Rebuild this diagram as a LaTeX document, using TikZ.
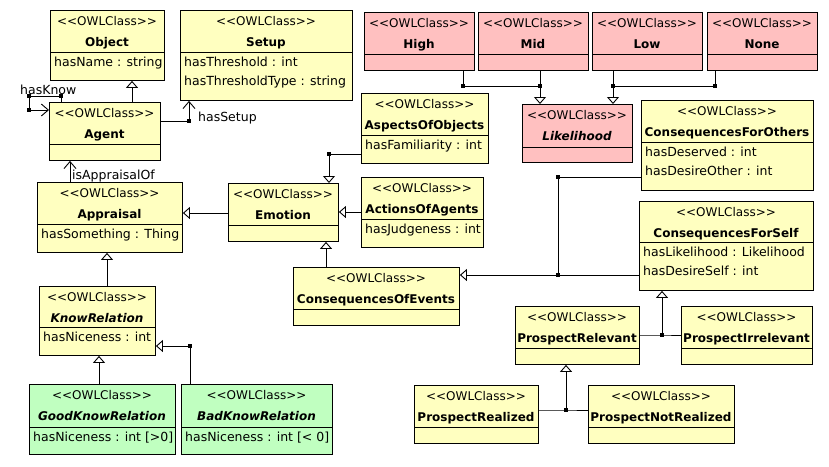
\documentclass[tikz,border=0pt]{standalone}
\usepackage{fontspec}
\setmainfont{DejaVu Sans}
\usetikzlibrary{arrows.meta}
\definecolor{clsyellow}{RGB}{255,255,192}
\definecolor{clspink}{RGB}{255,192,192}
\definecolor{clsgreen}{RGB}{192,255,192}
\newcommand{\owlst}{<{}<OWLClass>{}>}
\tikzset{
  clsbox/.style={draw=black, line width=0.9pt, inner sep=0pt, rectangle, anchor=north west},
  clsline/.style={line width=0.9pt},
  stereo/.style={font=\fontsize{12}{14}\selectfont, inner sep=0pt, anchor=base},
  clstitle/.style={font=\fontsize{12}{14}\selectfont\bfseries, inner sep=0pt, anchor=base},
  attr/.style={font=\fontsize{12.5}{14}\selectfont, inner sep=0pt, anchor=base west},
  gen/.style={line width=0.9pt, -{Triangle[open, length=7pt, width=12pt]}},
  nav/.style={line width=0.9pt, -{Straight Barb[length=7pt, width=12pt]}},
  conn/.style={line width=0.9pt},
  dot/.style={fill=black, rectangle, inner sep=0pt, minimum size=3.5pt},
  lbl/.style={font=\fontsize{12.5}{14}\selectfont, inner sep=0pt, anchor=base west},
}
% name, x1, y1, x2, y2, divider, fill, title
\newcommand{\umlbox}[8]{%
  \node[clsbox, fill=#7, minimum width={#4-#2}, minimum height={#5-#3}] (#1) at (#2,#3) {};
  \draw[clsline] (#2,#6) -- (#4,#6);
  \node[stereo] (#1-s) at ({(#2+#4)/2},{#3+15}) {\owlst};
  \node[clstitle] (#1-t) at ({(#2+#4)/2},{#3+36}) {#8};
}
\begin{document}
\begin{tikzpicture}[x=1pt,y=-1pt]
\useasboundingbox[fill=white] (0,0) rectangle (829,466);

% classes
\umlbox{object}{50}{10}{164}{80}{52}{clsyellow}{Object}
\node[attr] (object-a1) at (54,66) {hasName : string};

\umlbox{setup}{180}{10}{352}{100}{52}{clsyellow}{Setup}
\node[attr] (setup-a1) at (184,66) {hasThreshold : int};
\node[attr] (setup-a2) at (184,85) {hasThresholdType : string};

\umlbox{agent}{49}{102}{160}{160}{144}{clsyellow}{Agent}

\umlbox{appraisal}{37}{182}{182}{252}{224}{clsyellow}{Appraisal}
\node[attr] (appraisal-a1) at (41,238) {hasSomething : Thing};

\umlbox{knowrel}{39}{286}{155}{355}{327}{clsyellow}{\itshape KnowRelation}
\node[attr] (knowrel-a1) at (43,341) {hasNiceness : int};

\umlbox{good}{29}{384}{175}{454}{427}{clsgreen}{\itshape GoodKnowRelation}
\node[attr] (good-a1) at (33,441) {hasNiceness : int [>0]};

\umlbox{bad}{181}{384}{332}{454}{427}{clsgreen}{\itshape BadKnowRelation}
\node[attr] (bad-a1) at (185,441) {hasNiceness : int [< 0]};

\umlbox{emotion}{228}{183}{338}{241}{225}{clsyellow}{Emotion}

\umlbox{aspects}{361}{93}{488}{163}{135}{clsyellow}{AspectsOfObjects}
\node[attr] (aspects-a1) at (365,149) {hasFamiliarity : int};

\umlbox{actions}{361}{177}{483}{247}{219}{clsyellow}{ActionsOfAgents}
\node[attr] (actions-a1) at (365,233) {hasJudgeness : int};

\umlbox{coe}{293}{267}{459}{325}{309}{clsyellow}{ConsequencesOfEvents}

\umlbox{high}{364}{12}{474}{70}{54}{clspink}{High}
\umlbox{mid}{478}{12}{588}{70}{54}{clspink}{Mid}
\umlbox{low}{592}{12}{702}{70}{54}{clspink}{Low}
\umlbox{none}{707}{12}{817}{70}{54}{clspink}{None}

\umlbox{likelihood}{522}{104}{632}{162}{147}{clspink}{\itshape Likelihood}

\umlbox{cfo}{641}{100}{813}{190}{142}{clsyellow}{ConsequencesForOthers}
\node[attr] (cfo-a1) at (645,156) {hasDeserved : int};
\node[attr] (cfo-a2) at (645,175) {hasDesireOther : int};

\umlbox{cfs}{639}{201}{813}{290}{242}{clsyellow}{ConsequencesForSelf}
\node[attr] (cfs-a1) at (643,256) {hasLikelihood : Likelihood};
\node[attr] (cfs-a2) at (643,275) {hasDesireSelf : int};

\umlbox{pr}{515}{306}{639}{364}{348}{clsyellow}{ProspectRelevant}
\umlbox{pi}{681}{306}{812}{364}{348}{clsyellow}{ProspectIrrelevant}
\umlbox{realized}{414}{385}{538}{443}{427}{clsyellow}{ProspectRealized}
\umlbox{notrealized}{588}{385}{734}{443}{427}{clsyellow}{ProspectNotRealized}

% junction points
\node[dot] (k1) at (61,96) {};
\node[dot] (k2) at (29,96) {};
\node[dot] (k3) at (29,110) {};
\node[dot] (s1) at (189,121) {};
\node[dot] (b1) at (190,346) {};
\node[dot] (a1) at (329,154) {};
\node[dot] (c1) at (558,275) {};
\node[dot] (c2) at (558,177) {};
\node[dot] (h1) at (463,86) {};
\node[dot] (m1) at (540,86) {};
\node[dot] (l1) at (613,86) {};
\node[dot] (n1) at (715,86) {};
\node[dot] (p1) at (662,335) {};
\node[dot] (r1) at (566,410) {};

% connectors
\draw[gen] (agent.north -| 132,0) -- (object.south -| 132,0);
\draw[conn] (agent.north -| k1) -- (k1.center) -- (k2.center) -- (k3.center);
\draw[nav] (k3.center) -- (agent.west |- k3);
\node[lbl] (hasknow) at (20,94) {hasKnow};

\draw[conn] (agent.east |- s1) -- (s1.center);
\draw[nav] (s1.center) -- (setup.south -| s1);
\node[lbl] (hassetup) at (198,121) {hasSetup};

\draw[nav] (appraisal.north -| 70,0) -- (agent.south -| 70,0);
\node[lbl] (isappr) at (72,179) {isAppraisalOf};

\draw[gen] (emotion.west |- 0,213) -- (appraisal.east |- 0,213);
\draw[gen] (knowrel.north -| 107,0) -- (appraisal.south -| 107,0);
\draw[gen] (good.north -| 99,0) -- (knowrel.south -| 99,0);
\draw[conn] (bad.north -| b1) -- (b1.center);
\draw[gen] (b1.center) -- (knowrel.east |- b1);

\draw[conn] (aspects.west |- a1) -- (a1.center);
\draw[gen] (a1.center) -- (emotion.north -| a1);
\draw[gen] (actions.west |- 0,212) -- (emotion.east |- 0,212);
\draw[gen] (coe.north -| 326,0) -- (emotion.south -| 326,0);

\draw[conn] (cfs.west |- c1) -- (c1.center);
\draw[gen] (c1.center) -- (coe.east |- c1);
\draw[conn] (cfo.west |- c2) -- (c2.center) -- (c1.center);

\draw[conn] (high.south -| h1) -- (h1.center) -- (m1.center);
\draw[conn] (mid.south -| m1) -- (m1.center);
\draw[gen] (m1.center) -- (likelihood.north -| m1);
\draw[conn] (none.south -| n1) -- (n1.center) -- (l1.center);
\draw[conn] (low.south -| l1) -- (l1.center);
\draw[gen] (l1.center) -- (likelihood.north -| l1);

\draw[conn] (pr.east |- p1) -- (p1.center) -- (pi.west |- p1);
\draw[gen] (p1.center) -- (cfs.south -| p1);
\draw[conn] (realized.east |- r1) -- (r1.center) -- (notrealized.west |- r1);
\draw[gen] (r1.center) -- (pr.south -| r1);
\end{tikzpicture}
\end{document}
